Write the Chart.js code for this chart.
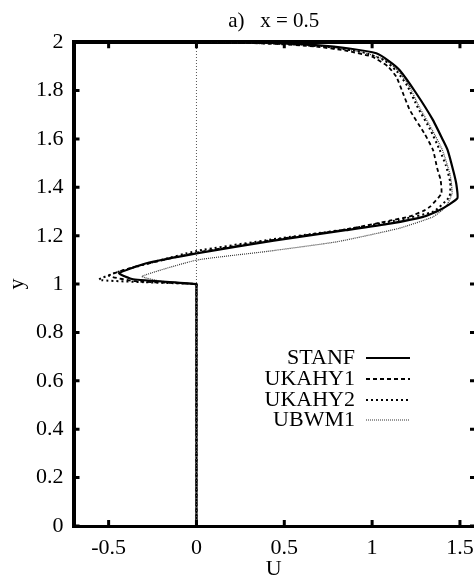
<!DOCTYPE html>
<html>
<head>
<meta charset="utf-8">
<script src="https://cdn.jsdelivr.net/npm/chart.js@4.4.0/dist/chart.umd.min.js"></script>
<style>
  html, body { margin: 0; padding: 0; background: #fff; overflow: hidden; }
  #wrap { width: 474px; height: 581px; }
</style>
</head>
<body>
<div id="wrap"><canvas id="profil" width="474" height="581"></canvas></div>
<script>
// ticks
const xTicks = [-0.5, 0, 0.5, 1, 1.5];
const yTicks = [0, 0.2, 0.4, 0.6, 0.8, 1, 1.2, 1.4, 1.6, 1.8, 2];

// zero line (x = 0)
const zeroU = [0, 0];
const zeroY = [0, 2];

// STANF
const stanfU = [0, 0, 0, -0.36, -0.44, -0.29, 0, 0.44, 0.85, 1.10, 1.29, 1.385, 1.485, 1.48, 1.465, 1.43, 1.40, 1.345, 1.25, 1.157, 1.10, 1.024, 0.87, 0.68, 0.49, 0.30, 0];
const stanfY = [0, 0.99, 1, 1.02, 1.045, 1.085, 1.127, 1.18, 1.223, 1.25, 1.278, 1.306, 1.354, 1.41, 1.46, 1.554, 1.6, 1.68, 1.79, 1.884, 1.92, 1.954, 1.974, 1.988, 1.995, 2.0, 2.0];

// UKAHY1
const ukahy1U = [0, 0, 0, -0.35, -0.50, -0.36, 0, 0.44, 0.85, 1.10, 1.214, 1.29, 1.33, 1.394, 1.39, 1.37, 1.347, 1.30, 1.214, 1.17, 1.138, 1.09, 1.0, 0.85, 0.68, 0.45, 0.2, 0];
const ukahy1Y = [0, 0.99, 1, 1.012, 1.035, 1.07, 1.13, 1.183, 1.226, 1.262, 1.28, 1.302, 1.32, 1.374, 1.43, 1.48, 1.554, 1.62, 1.72, 1.8, 1.857, 1.9, 1.94, 1.965, 1.982, 1.993, 1.999, 2];

// UKAHY2
const ukahy2U = [0, 0, 0, -0.3, -0.555, -0.45, -0.25, 0, 0.44, 0.85, 1.15, 1.35, 1.44, 1.445, 1.42, 1.385, 1.33, 1.26, 1.2, 1.14, 1.07, 0.95, 0.75, 0.5, 0.25, 0];
const ukahy2Y = [0, 0.99, 1, 1.008, 1.018, 1.05, 1.09, 1.137, 1.186, 1.226, 1.265, 1.3, 1.361, 1.42, 1.49, 1.554, 1.64, 1.73, 1.82, 1.88, 1.925, 1.958, 1.98, 1.993, 1.998, 2];

// UBWM1
const ubwm1U = [0, 0, 0, -0.2, -0.31, 0, 0.4, 0.8, 1.15, 1.347, 1.42, 1.455, 1.445, 1.40, 1.34, 1.27, 1.21, 1.15, 1.08, 0.95, 0.75, 0.5, 0.25, 0];
const ubwm1Y = [0, 0.99, 1, 1.012, 1.032, 1.099, 1.135, 1.175, 1.23, 1.278, 1.32, 1.375, 1.45, 1.554, 1.64, 1.73, 1.82, 1.88, 1.925, 1.958, 1.98, 1.993, 1.998, 2];

const SERIF = "'Liberation Serif', 'Times New Roman', serif";

function pts(us, ys) {
    return us.map((u, i) => ({ x: u, y: ys[i] }));
}

// tick marks pointing inside, on all four sides
const innerTicks = {
    id: 'innerTicks',
    afterDatasetsDraw(chart) {
        const ctx = chart.ctx;
        const a = chart.chartArea;
        const sx = chart.scales.x, sy = chart.scales.y;
        ctx.save();
        ctx.strokeStyle = '#000';
        ctx.lineWidth = 3;
        ctx.beginPath();
        xTicks.forEach(v => {
            let px = sx.getPixelForValue(v);
            ctx.moveTo(px, a.bottom); ctx.lineTo(px, a.bottom - 6);
            ctx.moveTo(px, a.top); ctx.lineTo(px, a.top + 6);
        });
        yTicks.forEach(v => {
            let py = sy.getPixelForValue(v);
            ctx.moveTo(a.left, py); ctx.lineTo(a.left + 6, py);
            ctx.moveTo(a.right - 4, py); ctx.lineTo(a.right, py);
        });
        ctx.stroke();
        ctx.restore();
    }
};

// legend: text on the left (right aligned), line sample on the right
const sampleLegend = {
    id: 'sampleLegend',
    afterDatasetsDraw(chart) {
        const ctx = chart.ctx;
        const rowsY = [358, 379, 400, 420];
        ctx.save();
        ctx.font = '22px ' + SERIF;
        ctx.textAlign = 'right';
        ctx.textBaseline = 'middle';
        ctx.fillStyle = '#000';
        let row = 0;
        chart.data.datasets.forEach(ds => {
            if (!ds.inLegend) return;
            let y = rowsY[row++];
            ctx.fillText(ds.label, 355, y);
            ctx.beginPath();
            ctx.setLineDash(ds.borderDash || []);
            ctx.lineWidth = ds.borderWidth;
            ctx.strokeStyle = ds.borderColor;
            ctx.moveTo(366, y);
            ctx.lineTo(410, y);
            ctx.stroke();
        });
        ctx.restore();
    }
};

new Chart(document.getElementById('profil'), {
    type: 'scatter',
    data: {
        datasets: [
            { label: 'zero', data: pts(zeroU, zeroY), showLine: true, borderColor: '#555', borderWidth: 1, borderDash: [1, 2], pointRadius: 0 },
            { label: 'STANF', inLegend: true, data: pts(stanfU, stanfY), showLine: true, borderColor: '#000', borderWidth: 2.2, borderDash: [], pointRadius: 0, tension: 0.15 },
            { label: 'UKAHY1', inLegend: true, data: pts(ukahy1U, ukahy1Y), showLine: true, borderColor: '#000', borderWidth: 1.8, borderDash: [4, 3], pointRadius: 0, tension: 0.15 },
            { label: 'UKAHY2', inLegend: true, data: pts(ukahy2U, ukahy2Y), showLine: true, borderColor: '#000', borderWidth: 2, borderDash: [2, 3], pointRadius: 0, tension: 0.15 },
            { label: 'UBWM1', inLegend: true, data: pts(ubwm1U, ubwm1Y), showLine: true, borderColor: '#333', borderWidth: 1.2, borderDash: [1, 1], pointRadius: 0, tension: 0.15 }
        ]
    },
    options: {
        responsive: false,
        animation: false,
        layout: { padding: { left: 2, right: 0, top: 2, bottom: 0 } },
        plugins: {
            legend: { display: false },
            tooltip: { enabled: false }
        },
        scales: {
            x: {
                type: 'linear',
                position: 'bottom',
                min: -0.7,
                max: 1.58,
                afterBuildTicks: axis => { axis.ticks = xTicks.map(v => ({ value: v })); },
                grid: { drawOnChartArea: false, drawTicks: false },
                border: { display: true, color: '#000', width: 3 },
                ticks: {
                    color: '#000', padding: 0, maxRotation: 0, autoSkip: false,
                    font: { family: SERIF, size: 22, lineHeight: 2 },
                    callback: v => String(v)
                },
                title: {
                    display: true, text: 'U', color: '#000',
                    font: { family: SERIF, size: 22, lineHeight: 1 },
                    padding: { top: -12, bottom: 1 }
                }
            },
            x2: {
                type: 'linear',
                position: 'top',
                min: -0.7,
                max: 1.58,
                grid: { drawOnChartArea: false, drawTicks: false },
                border: { display: true, color: '#000', width: 4 },
                ticks: { display: false },
                title: {
                    display: true, text: 'a)   x = 0.5', color: '#000',
                    font: { family: SERIF, size: 21, lineHeight: 1.2 },
                    padding: { top: 7, bottom: 8 }
                }
            },
            y: {
                type: 'linear',
                min: 0,
                max: 2,
                afterBuildTicks: axis => { axis.ticks = yTicks.map(v => ({ value: v })); },
                grid: { drawOnChartArea: false, drawTicks: false },
                border: { display: true, color: '#000', width: 4 },
                ticks: {
                    color: '#000', padding: 10, autoSkip: false,
                    font: { family: SERIF, size: 22, lineHeight: 1 },
                    callback: v => String(v)
                },
                title: {
                    display: true, text: 'y', color: '#000',
                    font: { family: SERIF, size: 22, lineHeight: 1 },
                    padding: { top: 4, bottom: -2 }
                }
            }
        }
    },
    plugins: [innerTicks, sampleLegend]
});
</script>
</body>
</html>
